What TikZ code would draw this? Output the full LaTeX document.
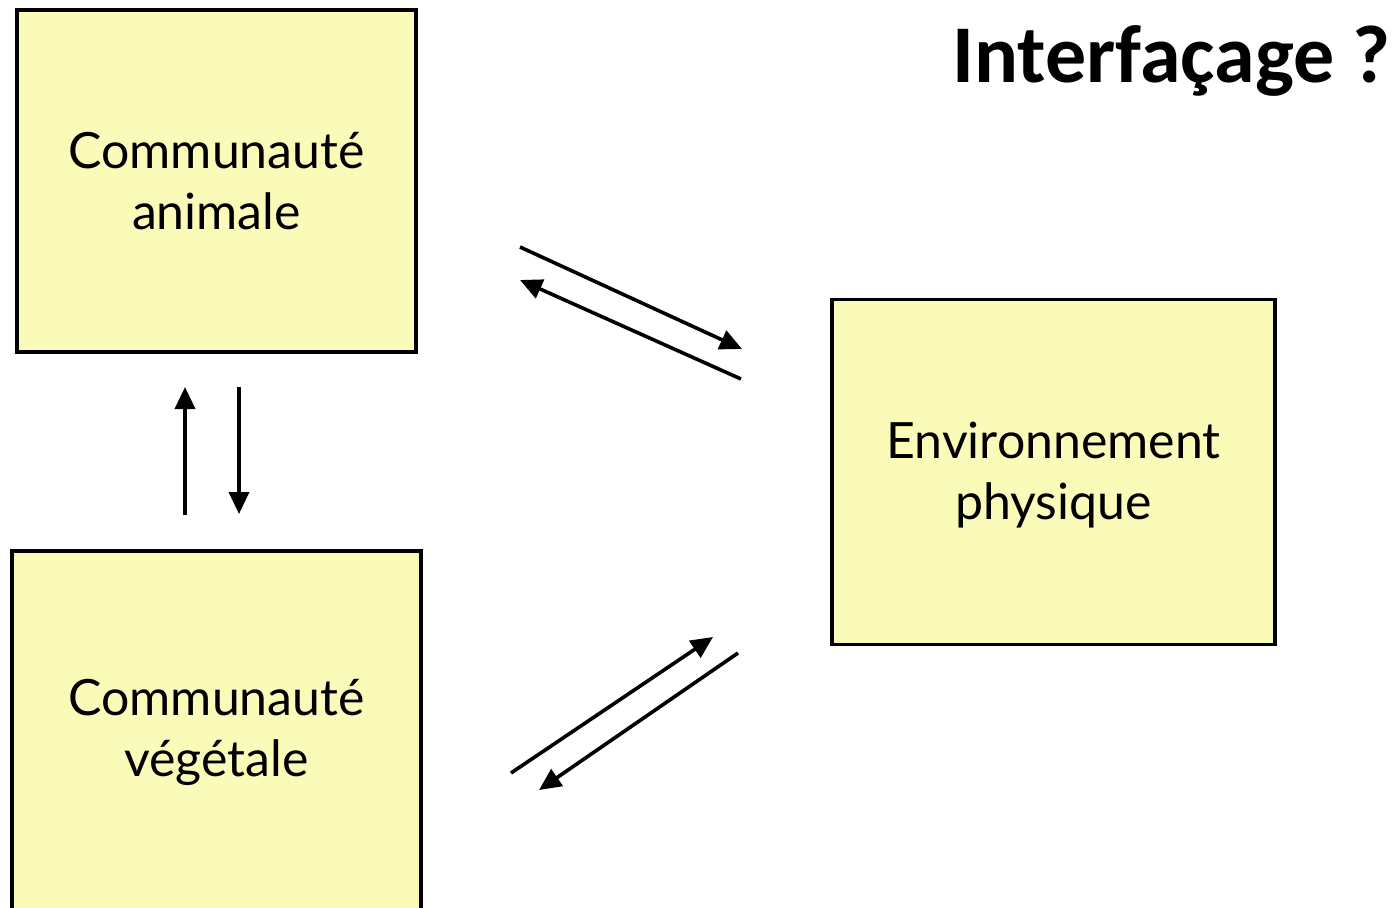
\documentclass[tikz,border=0pt]{standalone}
\usepackage{fontspec}
\setmainfont{Lato}
\newfontfamily\titlefont{Carlito}[BoldFont={Carlito Bold}]
\usetikzlibrary{arrows.meta}
\definecolor{boxfill}{RGB}{250,250,185}
\begin{document}
\begin{tikzpicture}[x=1pt,y=-1pt,
  boxnode/.style={draw=black,line width=3.2pt,fill=boxfill,rectangle,inner sep=0pt,
    align=center,font=\fontsize{50}{61}\selectfont},
  flow/.style={line width=3.6pt,-{Triangle[length=22pt,width=20pt]}}]
\useasboundingbox (0,0) rectangle (1399,907);
\node[boxnode,minimum width=399pt,minimum height=342pt] (anim) at (216.5,181) {Communauté\\animale};
\node[boxnode,minimum width=409pt,minimum height=362pt] (veg) at (216.5,732) {Communauté\\végétale};
\node[boxnode,minimum width=443pt,minimum height=345pt] (env) at (1053.5,472) {};
\node[align=center,inner sep=0pt,font=\fontsize{50}{61}\selectfont] (envtext) at ([yshift=-3pt]env.center) {Environnement\\physique};
\node[anchor=base east,inner sep=0pt,font=\titlefont\bfseries\fontsize{82}{90}\selectfont] (title) at (1391,82) {Interfaçage ?};
% vertical arrows
\coordinate (u1) at (185,515); \coordinate (u2) at (185,387);
\coordinate (d1) at (239,387); \coordinate (d2) at (239,514);
\draw[flow] (u1) -- (u2);
\draw[flow] (d1) -- (d2);
% upper diagonal arrows
\coordinate (a1) at (520,247); \coordinate (a2) at (742,349);
\coordinate (b1) at (741,379); \coordinate (b2) at (520,280);
\draw[flow] (a1) -- (a2);
\draw[flow] (b1) -- (b2);
% lower diagonal arrows
\coordinate (c1) at (511,773); \coordinate (c2) at (713,637);
\coordinate (e1) at (738,653); \coordinate (e2) at (539,790);
\draw[flow] (c1) -- (c2);
\draw[flow] (e1) -- (e2);
\end{tikzpicture}
\end{document}
